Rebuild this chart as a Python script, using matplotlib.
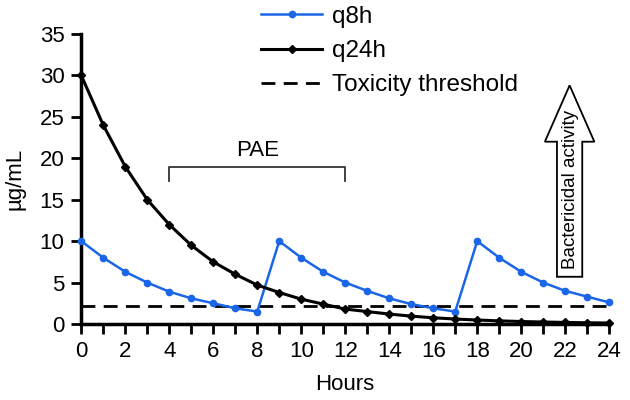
import numpy as np
import matplotlib
matplotlib.use("Agg")
import matplotlib.pyplot as plt
from matplotlib.patches import FancyArrow

plt.rcParams["font.family"] = ["Liberation Sans", "DejaVu Sans"]

hours = np.arange(0, 25)
q8h = [10, 8, 6.3, 5, 3.9, 3.1, 2.5, 1.9, 1.5,
       10, 8, 6.3, 5, 4, 3.1, 2.4, 1.9, 1.5,
       10, 8, 6.3, 5, 4, 3.3, 2.6]
q24h = [30, 24, 19, 15, 12, 9.5, 7.5, 6, 4.7, 3.8, 3, 2.4, 1.8,
        1.5, 1.2, 0.95, 0.75, 0.6, 0.48, 0.38, 0.3, 0.24, 0.19, 0.15, 0.12]
threshold = 2.2
pae_start, pae_end = 4, 12

blue = "#1a66e6"

fig = plt.figure(figsize=(6.3, 4), dpi=100)
ax = fig.add_axes([0.129, 0.19, 0.838, 0.725])

l1, = ax.plot(hours, q8h, color=blue, lw=1.8, marker="o", ms=4.5, clip_on=False, zorder=3)
l2, = ax.plot(hours, q24h, color="black", lw=2.2, marker="D", ms=4.5, clip_on=False, zorder=4)
l3 = ax.axhline(threshold, xmin=0, xmax=1, color="black", lw=2, ls=(0, (5, 3)), zorder=2)

ax.set_xlim(0, 24)
ax.set_ylim(0, 35)
ax.set_xticks(range(0, 25, 2))
ax.set_xticks(range(0, 25), minor=True)
ax.set_yticks(range(0, 36, 5))
for s in ["top", "right"]:
    ax.spines[s].set_visible(False)
for s in ["left", "bottom"]:
    ax.spines[s].set_linewidth(2.5)
ax.tick_params(axis="both", which="both", direction="out", width=2, labelsize=16)
ax.tick_params(axis="both", which="major", length=7, pad=5)
ax.tick_params(axis="x", which="minor", length=7)
ax.set_xlabel("Hours", fontsize=16, labelpad=9)
ax.set_ylabel("µg/mL", fontsize=16, labelpad=10)

# PAE bracket
ax.plot([pae_start, pae_start, pae_end, pae_end], [17.2, 19, 19, 17.2],
        color="#333333", lw=1.3)
ax.text((pae_start + pae_end) / 2, 19.7, "PAE", ha="center", va="bottom", fontsize=16)

# bactericidal activity arrow
arr = FancyArrow(22.2, 5.7, 0, 23.1, width=1.15, head_width=2.25, head_length=6.8,
                 length_includes_head=True, facecolor="white", edgecolor="black",
                 lw=1.3, clip_on=False, zorder=5)
ax.add_patch(arr)
ax.text(22.25, 16.2, "Bactericidal activity", rotation=90, ha="center", va="center",
        fontsize=13.5, zorder=6)

fig.legend([l1, l2, l3], ["q8h", "q24h", "Toxicity threshold"],
           loc="upper left", bbox_to_anchor=(0.38, 1.04), frameon=False,
           fontsize=17.5, handlelength=2.5, labelspacing=0.5, handletextpad=0.4)

fig.savefig("out.png", dpi=100)
